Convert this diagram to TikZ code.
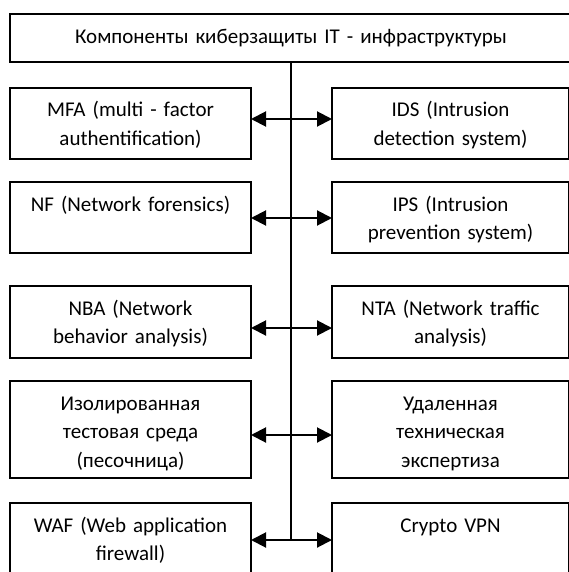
\documentclass[tikz,border=0pt]{standalone}
\usepackage{fontspec}
\setmainfont{Carlito}
\usetikzlibrary{arrows.meta, positioning}

\begin{document}
\begin{tikzpicture}[
    x=1pt, y=-1pt,
    every node/.style={font=\fontsize{21pt}{28.5pt}\selectfont},
    titlebox/.style={rectangle, draw, line width=1.8pt, outer sep=0pt, inner xsep=4pt, inner ysep=0pt, text width=554pt, align=center, text height=30pt, text depth=18pt},
    compbox/.style={rectangle, draw, line width=1.8pt, outer sep=0pt, inner xsep=4pt, inner ysep=0pt, text width=233pt, align=center, text height=29pt, text depth=42pt},
    rightcol/.style={text width=229pt},
    spine/.style={line width=1.3pt},
    biarrow/.style={<->, >={Triangle[length=15pt, width=15pt]}, line width=2pt}
]
\useasboundingbox (0,0) rectangle (568,572);

% --- заголовок ---
\node (title) [titlebox, anchor=north west] at (10,14) {Компоненты киберзащиты IT - инфраструктуры};

% --- левая колонка ---
\node (mfa) [compbox, anchor=north west] at (10,88) {MFA (multi - factor\\authentification)};
\node (nf) [compbox, below=23pt of mfa] {NF (Network forensics)};
\node (nba) [compbox, below=33pt of nf, text depth=43pt] {NBA (Network\\behavior analysis)};
\node (sandbox) [compbox, below=23pt of nba, text depth=68pt] {Изолированная\\тестовая среда\\(песочница)};
\node (waf) [compbox, below=25pt of sandbox, text depth=43pt] {WAF (Web application\\firewall)};

% --- правая колонка ---
\node (ids) [compbox, rightcol, right=81pt of mfa] {IDS (Intrusion\\detection system)};
\node (ips) [compbox, rightcol, right=81pt of nf] {IPS (Intrusion\\prevention system)};
\node (nta) [compbox, rightcol, right=81pt of nba, text depth=43pt] {NTA (Network traffic\\analysis)};
\node (expert) [compbox, rightcol, right=81pt of sandbox, text depth=68pt] {Удаленная\\техническая\\экспертиза};
\node (vpn) [compbox, rightcol, right=81pt of waf, text depth=43pt] {Crypto VPN};

% --- ось и связи ---
\coordinate (j1) at (291,119);
\coordinate (j2) at (291,218);
\coordinate (j3) at (291,328);
\coordinate (j4) at (291,435);
\coordinate (j5) at (291,540);

\draw [spine] (title.south) -- (j5);
\draw [biarrow] (mfa.east |- j1) -- (ids.west |- j1);
\draw [biarrow] (nf.east |- j2) -- (ips.west |- j2);
\draw [biarrow] (nba.east |- j3) -- (nta.west |- j3);
\draw [biarrow] (sandbox.east |- j4) -- (expert.west |- j4);
\draw [biarrow] (waf.east |- j5) -- (vpn.west |- j5);

\end{tikzpicture}
\end{document}
